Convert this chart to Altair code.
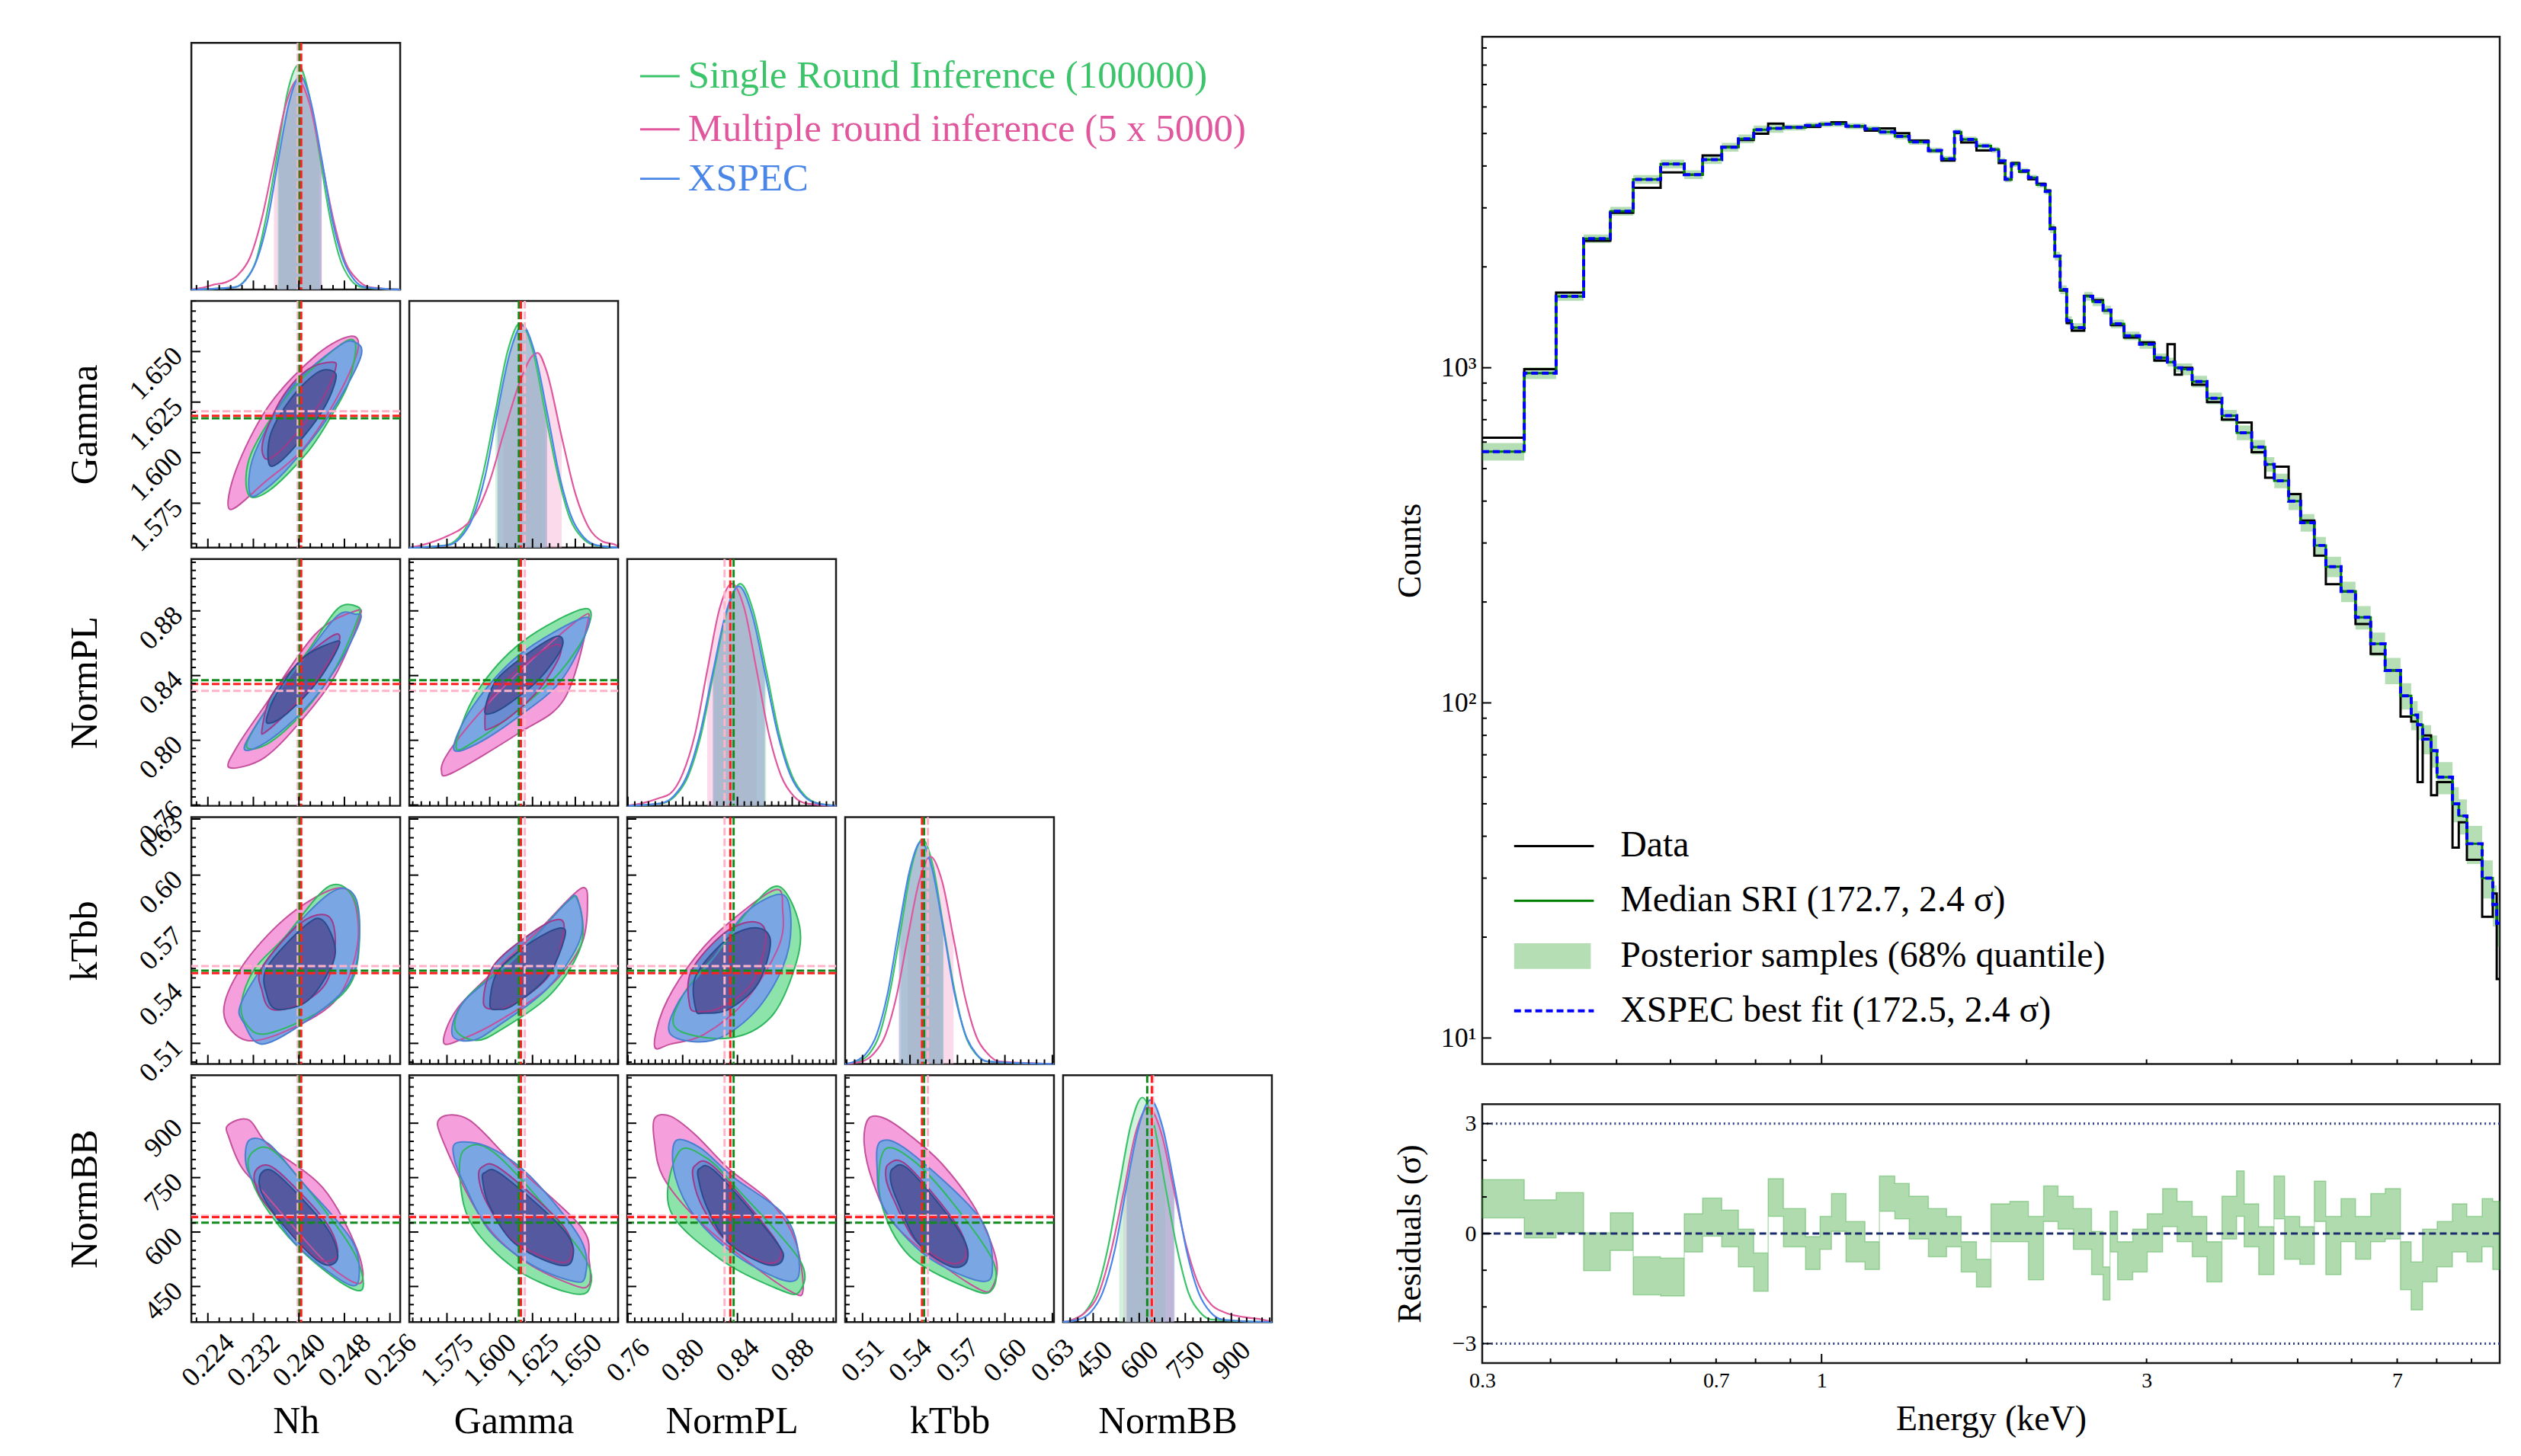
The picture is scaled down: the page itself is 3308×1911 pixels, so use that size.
import numpy as np
import pandas as pd
import altair as alt

FONT = "Liberation Serif"

# ---------------- corner plot data ----------------
PARAMS = ["Nh", "Gamma", "NormPL", "kTbb", "NormBB"]
DOMAIN = {"Nh": [0.2211, 0.2578], "Gamma": [1.553, 1.675], "NormPL": [0.7595, 0.912],
          "kTbb": [0.499, 0.631], "NormBB": [352, 1032]}
MAJOR = {"Nh": [0.224, 0.232, 0.240, 0.248, 0.256], "Gamma": [1.575, 1.600, 1.625, 1.650],
         "NormPL": [0.76, 0.80, 0.84, 0.88], "kTbb": [0.51, 0.54, 0.57, 0.60, 0.63],
         "NormBB": [450, 600, 750, 900]}
MINOR_STEP = {"Nh": 0.002, "Gamma": 0.005, "NormPL": 0.005, "kTbb": 0.005, "NormBB": 25}
LABEL_FMT = {"Nh": ".3f", "Gamma": ".3f", "NormPL": ".2f", "kTbb": ".2f", "NormBB": "d"}

MEDIANS = {
    "Nh": {"MRI": 0.2398, "SRI": 0.2401, "XSPEC": 0.2404},
    "Gamma": {"MRI": 1.6205, "SRI": 1.6170, "XSPEC": 1.6182},
    "NormPL": {"MRI": 0.8306, "SRI": 0.8372, "XSPEC": 0.8348},
    "kTbb": {"MRI": 0.5513, "SRI": 0.5489, "XSPEC": 0.5476},
    "NormBB": {"MRI": 645, "SRI": 626, "XSPEC": 641},
}

# 1D marginal curves (x, relative height) and 68% bands
KDE = {
    "Nh": {
        "SRI": ([0.2288, 0.2306, 0.2325, 0.2343, 0.2362, 0.2380, 0.2399, 0.2417, 0.2436, 0.2454, 0.2473, 0.2491, 0.2510],
                [0.01, 0.04, 0.12, 0.30, 0.55, 0.80, 0.91, 0.80, 0.55, 0.30, 0.12, 0.04, 0.01]),
        "MRI": ([0.2235, 0.2250, 0.2272, 0.2293, 0.2314, 0.2335, 0.2356, 0.2377, 0.2398, 0.2419, 0.2440, 0.2461, 0.2482, 0.2503, 0.2524],
                [0.01, 0.02, 0.03, 0.06, 0.13, 0.29, 0.52, 0.75, 0.85, 0.75, 0.52, 0.28, 0.11, 0.04, 0.01]),
        "XSPEC": ([0.2288, 0.2307, 0.2326, 0.2345, 0.2364, 0.2383, 0.2402, 0.2421, 0.2440, 0.2459, 0.2478, 0.2497, 0.2516],
                  [0.01, 0.04, 0.12, 0.28, 0.53, 0.76, 0.865, 0.76, 0.53, 0.28, 0.12, 0.04, 0.01]),
    },
    "Gamma": {
        "SRI": ([1.5743, 1.5816, 1.5888, 1.5961, 1.6033, 1.6106, 1.6178, 1.6251, 1.6323, 1.6396, 1.6468, 1.6541, 1.6613],
                [0.01, 0.04, 0.12, 0.30, 0.55, 0.80, 0.91, 0.80, 0.55, 0.30, 0.12, 0.04, 0.01]),
        "MRI": ([1.5600, 1.5760, 1.5840, 1.5920, 1.6000, 1.6080, 1.6180, 1.6240, 1.6280, 1.6330, 1.6420, 1.6500, 1.6580, 1.6660, 1.6740],
                [0.01, 0.05, 0.08, 0.14, 0.27, 0.46, 0.68, 0.77, 0.79, 0.72, 0.45, 0.22, 0.08, 0.025, 0.01]),
        "XSPEC": ([1.5755, 1.5828, 1.5900, 1.5973, 1.6045, 1.6118, 1.6190, 1.6263, 1.6335, 1.6408, 1.6480, 1.6553, 1.6625],
                  [0.01, 0.04, 0.12, 0.29, 0.55, 0.79, 0.90, 0.79, 0.55, 0.29, 0.12, 0.04, 0.01]),
    },
    "NormPL": {
        "SRI": ([0.7850, 0.7945, 0.8040, 0.8135, 0.8230, 0.8325, 0.8420, 0.8515, 0.8610, 0.8705, 0.8800, 0.8895, 0.8990],
                [0.01, 0.04, 0.12, 0.29, 0.55, 0.79, 0.90, 0.79, 0.55, 0.29, 0.12, 0.04, 0.01]),
        "MRI": ([0.7700, 0.7820, 0.7910, 0.8000, 0.8090, 0.8180, 0.8270, 0.8360, 0.8450, 0.8540, 0.8630, 0.8720, 0.8810, 0.8900],
                [0.01, 0.03, 0.05, 0.13, 0.29, 0.55, 0.80, 0.90, 0.80, 0.55, 0.29, 0.12, 0.04, 0.01]),
        "XSPEC": ([0.7840, 0.7935, 0.8030, 0.8125, 0.8220, 0.8315, 0.8410, 0.8505, 0.8600, 0.8695, 0.8790, 0.8885, 0.8980],
                  [0.01, 0.04, 0.12, 0.29, 0.54, 0.78, 0.89, 0.78, 0.54, 0.29, 0.12, 0.04, 0.01]),
    },
    "kTbb": {
        "SRI": ([0.5073, 0.5141, 0.5208, 0.5276, 0.5343, 0.5411, 0.5478, 0.5546, 0.5613, 0.5681, 0.5748, 0.5816, 0.5883],
                [0.01, 0.04, 0.12, 0.30, 0.55, 0.80, 0.91, 0.80, 0.55, 0.30, 0.12, 0.04, 0.01]),
        "MRI": ([0.5095, 0.5168, 0.5240, 0.5313, 0.5385, 0.5458, 0.5530, 0.5603, 0.5675, 0.5748, 0.5820, 0.5893, 0.5965],
                [0.01, 0.04, 0.11, 0.27, 0.51, 0.74, 0.84, 0.74, 0.51, 0.27, 0.11, 0.04, 0.01]),
        "XSPEC": ([0.5050, 0.5120, 0.5190, 0.5260, 0.5330, 0.5400, 0.5470, 0.5540, 0.5610, 0.5680, 0.5750, 0.5820, 0.5890],
                  [0.01, 0.04, 0.12, 0.29, 0.55, 0.79, 0.90, 0.79, 0.55, 0.29, 0.12, 0.04, 0.01]),
    },
    "NormBB": {
        "SRI": ([385, 423, 460, 498, 535, 573, 610, 648, 685, 723, 760, 798, 835],
                [0.01, 0.04, 0.12, 0.30, 0.55, 0.80, 0.91, 0.80, 0.55, 0.30, 0.12, 0.04, 0.01]),
        "MRI": ([384, 425, 466, 507, 548, 589, 630, 671, 712, 753, 794, 835, 876, 940, 1000],
                [0.01, 0.04, 0.11, 0.28, 0.52, 0.77, 0.87, 0.77, 0.54, 0.31, 0.15, 0.07, 0.04, 0.02, 0.01]),
        "XSPEC": ([403, 442, 481, 520, 559, 598, 637, 676, 715, 754, 793, 832, 871, 920],
                  [0.01, 0.04, 0.12, 0.29, 0.55, 0.79, 0.90, 0.79, 0.55, 0.29, 0.12, 0.04, 0.01, 0.005]),
    },
}
BAND = {
    "Nh": {"SRI": (0.2362, 0.2436), "MRI": (0.2356, 0.2440), "XSPEC": (0.2364, 0.2440)},
    "Gamma": {"SRI": (1.6033, 1.6323), "MRI": (1.6080, 1.6420), "XSPEC": (1.6045, 1.6335)},
    "NormPL": {"SRI": (0.8230, 0.8610), "MRI": (0.8180, 0.8540), "XSPEC": (0.8220, 0.8600)},
    "kTbb": {"SRI": (0.5343, 0.5613), "MRI": (0.5385, 0.5675), "XSPEC": (0.5330, 0.5610)},
    "NormBB": {"SRI": (535, 685), "MRI": (548, 712), "XSPEC": (559, 715)},
}

# 2D credible contours: vertices (x = column parameter, y = row parameter)
CONTOURS = {
    "Gamma|Nh": {
        "MRI_out": [(0.2279, 1.5719), (0.2290, 1.5919), (0.2348, 1.6236), (0.2432, 1.6486), (0.2492, 1.6576), (0.2503, 1.6501), (0.2466, 1.6267), (0.2408, 1.6021), (0.2342, 1.5859)],
        "XSPEC_out": [(0.2314, 1.5795), (0.2322, 1.5995), (0.2388, 1.6323), (0.2468, 1.6523), (0.2499, 1.6546), (0.2508, 1.6467), (0.2455, 1.6191), (0.2388, 1.5946), (0.2342, 1.5821)],
        "SRI_out": [(0.2311, 1.5795), (0.2316, 1.5995), (0.2384, 1.6297), (0.2468, 1.6523), (0.2499, 1.6542), (0.2488, 1.6350), (0.2459, 1.6191), (0.2415, 1.6002), (0.2348, 1.5813)],
        "XSPEC_in": [(0.2347, 1.5949), (0.2351, 1.6097), (0.2388, 1.6274), (0.2432, 1.6395), (0.2460, 1.6403), (0.2464, 1.6353), (0.2442, 1.6210), (0.2402, 1.6059), (0.2364, 1.5949)],
        "MRI_in": [(0.2339, 1.5976), (0.2338, 1.6070), (0.2371, 1.6274), (0.2415, 1.6410), (0.2458, 1.6448), (0.2464, 1.6410), (0.2438, 1.6248), (0.2388, 1.6070), (0.2356, 1.5983)],
    },
    "NormPL|Nh": {
        "MRI_out": [(0.2278, 0.7831), (0.2291, 0.7959), (0.2339, 0.8209), (0.2428, 0.8653), (0.2499, 0.8799), (0.2506, 0.8747), (0.2464, 0.8402), (0.2406, 0.8129), (0.2339, 0.7892)],
        "SRI_out": [(0.2308, 0.7977), (0.2362, 0.8294), (0.2419, 0.8568), (0.2468, 0.8813), (0.2502, 0.8827), (0.2504, 0.8756), (0.2464, 0.8445), (0.2406, 0.8166), (0.2344, 0.7977)],
        "XSPEC_out": [(0.2304, 0.7959), (0.2358, 0.8270), (0.2415, 0.8535), (0.2468, 0.8771), (0.2498, 0.8780), (0.2508, 0.8742), (0.2468, 0.8459), (0.2408, 0.8185), (0.2342, 0.7987)],
        "XSPEC_in": [(0.2344, 0.8147), (0.2362, 0.8294), (0.2406, 0.8506), (0.2464, 0.8610), (0.2468, 0.8568), (0.2432, 0.8360), (0.2379, 0.8166), (0.2348, 0.8105)],
        "MRI_in": [(0.2335, 0.8062), (0.2351, 0.8270), (0.2402, 0.8487), (0.2463, 0.8653), (0.2468, 0.8586), (0.2428, 0.8360), (0.2375, 0.8157), (0.2342, 0.8053)],
    },
    "NormPL|Gamma": {
        "MRI_out": [(1.5718, 0.7812), (1.5753, 0.7916), (1.5923, 0.8147), (1.6169, 0.8421), (1.6531, 0.8756), (1.6567, 0.8705), (1.6433, 0.8251), (1.6169, 0.8044), (1.5780, 0.7798)],
        "SRI_out": [(1.5803, 0.7959), (1.5923, 0.8294), (1.6191, 0.8610), (1.6553, 0.8813), (1.6567, 0.8676), (1.6410, 0.8421), (1.6169, 0.8190), (1.5923, 0.8001)],
        "XSPEC_out": [(1.5789, 0.7949), (1.5901, 0.8209), (1.6169, 0.8525), (1.6544, 0.8756), (1.6558, 0.8653), (1.6410, 0.8360), (1.6169, 0.8147), (1.5923, 0.7977)],
        "XSPEC_in": [(1.5972, 0.8190), (1.6044, 0.8379), (1.6240, 0.8549), (1.6397, 0.8643), (1.6419, 0.8568), (1.6290, 0.8379), (1.6120, 0.8232), (1.6008, 0.8166)],
        "MRI_in": [(1.5972, 0.8086), (1.5999, 0.8251), (1.6191, 0.8464), (1.6383, 0.8591), (1.6410, 0.8525), (1.6290, 0.8317), (1.6120, 0.8147), (1.5999, 0.8072)],
    },
    "kTbb|Nh": {
        "MRI_out": [(0.2268, 0.5262), (0.2299, 0.5506), (0.2375, 0.5766), (0.2459, 0.5924), (0.2495, 0.5879), (0.2503, 0.5628), (0.2468, 0.5343), (0.2388, 0.5181), (0.2308, 0.5116)],
        "XSPEC_out": [(0.2304, 0.5205), (0.2299, 0.5319), (0.2362, 0.5615), (0.2455, 0.5904), (0.2498, 0.5888), (0.2506, 0.5656), (0.2486, 0.5412), (0.2406, 0.5205), (0.2335, 0.5096)],
        "SRI_out": [(0.2299, 0.5319), (0.2322, 0.5498), (0.2375, 0.5668), (0.2455, 0.5944), (0.2502, 0.5831), (0.2498, 0.5469), (0.2442, 0.5282), (0.2344, 0.5152), (0.2308, 0.5201)],
        "XSPEC_in": [(0.2344, 0.5355), (0.2344, 0.5506), (0.2411, 0.5729), (0.2442, 0.5758), (0.2464, 0.5599), (0.2446, 0.5449), (0.2411, 0.5319), (0.2362, 0.5282)],
        "MRI_in": [(0.2335, 0.5384), (0.2335, 0.5506), (0.2402, 0.5741), (0.2451, 0.5782), (0.2464, 0.5636), (0.2448, 0.5425), (0.2402, 0.5311), (0.2352, 0.5282)],
    },
    "kTbb|Gamma": {
        "MRI_out": [(1.5731, 0.5104), (1.5807, 0.5282), (1.6048, 0.5506), (1.6290, 0.5709), (1.6531, 0.5928), (1.6571, 0.5843), (1.6531, 0.5620), (1.6339, 0.5396), (1.6048, 0.5217), (1.5852, 0.5128)],
        "XSPEC_out": [(1.5780, 0.5148), (1.5852, 0.5327), (1.6142, 0.5550), (1.6437, 0.5843), (1.6509, 0.5875), (1.6531, 0.5664), (1.6339, 0.5396), (1.6048, 0.5193), (1.5901, 0.5116)],
        "SRI_out": [(1.5798, 0.5181), (1.5865, 0.5343), (1.6156, 0.5567), (1.6446, 0.5851), (1.6517, 0.5863), (1.6535, 0.5628), (1.6357, 0.5364), (1.6066, 0.5173), (1.5919, 0.5116)],
        "XSPEC_in": [(1.6001, 0.5307), (1.6048, 0.5486), (1.6240, 0.5640), (1.6410, 0.5717), (1.6437, 0.5664), (1.6339, 0.5461), (1.6142, 0.5307), (1.6048, 0.5282)],
        "MRI_in": [(1.5963, 0.5323), (1.6021, 0.5514), (1.6223, 0.5677), (1.6392, 0.5762), (1.6433, 0.5701), (1.6348, 0.5465), (1.6142, 0.5311), (1.6021, 0.5282)],
    },
    "kTbb|NormPL": {
        "MRI_out": [(0.7795, 0.5083), (0.7857, 0.5282), (0.8035, 0.5506), (0.8280, 0.5709), (0.8669, 0.5920), (0.8730, 0.5819), (0.8702, 0.5620), (0.8458, 0.5327), (0.8157, 0.5148), (0.7912, 0.5096)],
        "XSPEC_out": [(0.7912, 0.5148), (0.7973, 0.5327), (0.8218, 0.5550), (0.8458, 0.5798), (0.8730, 0.5896), (0.8791, 0.5729), (0.8730, 0.5506), (0.8519, 0.5262), (0.8218, 0.5116)],
        "SRI_out": [(0.7951, 0.5181), (0.8007, 0.5364), (0.8257, 0.5587), (0.8480, 0.5810), (0.8702, 0.5940), (0.8853, 0.5729), (0.8819, 0.5506), (0.8641, 0.5238), (0.8335, 0.5128)],
        "XSPEC_in": [(0.8096, 0.5282), (0.8096, 0.5461), (0.8335, 0.5664), (0.8547, 0.5717), (0.8641, 0.5640), (0.8547, 0.5417), (0.8335, 0.5282), (0.8157, 0.5262)],
        "MRI_in": [(0.8051, 0.5303), (0.8062, 0.5486), (0.8302, 0.5689), (0.8524, 0.5750), (0.8608, 0.5668), (0.8508, 0.5425), (0.8285, 0.5295), (0.8118, 0.5270)],
    },
    "NormBB|Nh": {
        "MRI_out": [(0.2275, 894), (0.2312, 909), (0.2348, 837), (0.2442, 722), (0.2502, 553), (0.2508, 459), (0.2451, 511), (0.2384, 626), (0.2331, 722), (0.2299, 779), (0.2278, 856)],
        "XSPEC_out": [(0.2308, 779), (0.2312, 852), (0.2348, 842), (0.2406, 737), (0.2464, 637), (0.2499, 559), (0.2506, 482), (0.2495, 452), (0.2451, 492), (0.2388, 578), (0.2335, 704)],
        "SRI_out": [(0.2312, 770), (0.2318, 819), (0.2352, 827), (0.2415, 720), (0.2495, 549), (0.2512, 444), (0.2472, 463), (0.2398, 559), (0.2339, 674)],
        "XSPEC_in": [(0.2331, 752), (0.2352, 770), (0.2398, 704), (0.2451, 607), (0.2468, 540), (0.2459, 511), (0.2432, 522), (0.2379, 607), (0.2339, 693)],
        "MRI_in": [(0.2322, 762), (0.2348, 783), (0.2395, 720), (0.2448, 626), (0.2468, 553), (0.2458, 522), (0.2428, 532), (0.2375, 616), (0.2332, 699)],
    },
    "NormBB|Gamma": {
        "MRI_out": [(1.5709, 913), (1.5879, 909), (1.6142, 787), (1.6531, 616), (1.6580, 524), (1.6580, 455), (1.6482, 455), (1.6191, 524), (1.5950, 639), (1.5731, 846)],
        "XSPEC_out": [(1.5794, 800), (1.5807, 846), (1.5999, 833), (1.6240, 752), (1.6531, 580), (1.6558, 478), (1.6482, 465), (1.6240, 511), (1.5999, 603), (1.5852, 731)],
        "SRI_out": [(1.5829, 731), (1.5852, 827), (1.6048, 810), (1.6531, 547), (1.6580, 442), (1.6437, 436), (1.6142, 501), (1.5901, 616)],
        "XSPEC_in": [(1.5959, 741), (1.5972, 764), (1.6071, 758), (1.6437, 603), (1.6482, 524), (1.6388, 511), (1.6142, 570), (1.5999, 672)],
        "MRI_in": [(1.5937, 745), (1.5954, 779), (1.6066, 773), (1.6424, 620), (1.6477, 536), (1.6392, 519), (1.6133, 578), (1.5986, 678)],
    },
    "NormBB|NormPL": {
        "MRI_out": [(0.7795, 913), (0.7912, 919), (0.8096, 867), (0.8335, 775), (0.8641, 683), (0.8819, 580), (0.8880, 442), (0.8791, 436), (0.8458, 524), (0.8096, 639), (0.7857, 752), (0.7795, 846)],
        "XSPEC_out": [(0.7946, 850), (0.8124, 833), (0.8368, 752), (0.8758, 639), (0.8853, 501), (0.8758, 465), (0.8396, 534), (0.8096, 639), (0.7946, 752)],
        "SRI_out": [(0.7973, 821), (0.8174, 804), (0.8396, 720), (0.8853, 524), (0.8853, 436), (0.8702, 442), (0.8279, 524), (0.7907, 662)],
        "XSPEC_in": [(0.8124, 775), (0.8246, 764), (0.8669, 580), (0.8730, 524), (0.8608, 511), (0.8335, 570), (0.8185, 662), (0.8118, 741)],
        "MRI_in": [(0.8090, 783), (0.8229, 779), (0.8647, 595), (0.8714, 532), (0.8591, 517), (0.8313, 578), (0.8146, 668), (0.8079, 741)],
    },
    "NormBB|kTbb": {
        "MRI_out": [(0.5139, 913), (0.5240, 913), (0.5398, 867), (0.5604, 787), (0.5816, 662), (0.5945, 524), (0.5921, 448), (0.5840, 442), (0.5557, 524), (0.5292, 626), (0.5163, 741), (0.5110, 846)],
        "XSPEC_out": [(0.5216, 850), (0.5398, 821), (0.5840, 639), (0.5921, 501), (0.5840, 465), (0.5504, 534), (0.5240, 662), (0.5192, 775)],
        "SRI_out": [(0.5240, 827), (0.5432, 793), (0.5672, 679), (0.5921, 524), (0.5921, 442), (0.5787, 442), (0.5398, 534), (0.5216, 685)],
        "XSPEC_in": [(0.5292, 775), (0.5398, 770), (0.5710, 603), (0.5763, 524), (0.5657, 505), (0.5451, 570), (0.5321, 685), (0.5278, 741)],
        "MRI_in": [(0.5264, 787), (0.5384, 783), (0.5696, 620), (0.5753, 536), (0.5648, 515), (0.5432, 578), (0.5297, 689), (0.5249, 745)],
    },
}

CORNER_LEGEND = ["Single Round Inference (100000)", "Multiple round inference (5 x 5000)", "XSPEC"]

# ---------------- spectrum data ----------------
SPEC_EDGES = [0.3175, 0.366, 0.4076, 0.4473, 0.4896, 0.529, 0.5803, 0.6286, 0.6688, 0.7135,
              0.7549, 0.795, 0.8348, 0.879, 0.9473, 0.995, 1.034, 1.086, 1.158, 1.216,
              1.281, 1.345, 1.435, 1.500, 1.567, 1.603, 1.688, 1.773, 1.820, 1.860,
              1.900, 1.950, 2.012, 2.070, 2.130, 2.165, 2.200, 2.240, 2.290, 2.330,
              2.430, 2.500, 2.590, 2.660, 2.780, 2.930, 3.080, 3.220, 3.300, 3.380,
              3.500, 3.680, 3.870, 4.070, 4.280, 4.480, 4.620, 4.850, 5.050, 5.290,
              5.500, 5.790, 6.080, 6.400, 6.720, 7.080, 7.340, 7.500, 7.630, 7.850,
              8.010, 8.440, 8.620, 8.860, 9.330, 9.670, 9.800, 9.900]
MODEL = [562, 964, 1633, 2427, 2931, 3648, 4056, 3770, 4180, 4550,
         4819, 5130, 5180, 5210, 5283, 5330, 5346, 5260, 5160, 5050,
         4900, 4720, 4450, 4200, 5050, 4800, 4590, 4470, 4140, 3650,
         4056, 3866, 3690, 3516, 3357, 2600, 2153, 1711, 1382, 1318,
         1633, 1574, 1486, 1352, 1245, 1175, 1071, 1040, 1000, 990,
         910, 811, 720, 640, 580, 515, 460, 400, 345, 295,
         255, 215, 180, 150, 125, 105, 92, 86, 78, 72,
         60, 50, 46, 38, 30, 25, 22]
DATA = [618, 990, 1677, 2393, 2902, 3443, 3828, 3770, 4299, 4560,
        4780, 4990, 5350, 5220, 5230, 5320, 5400, 5250, 5100, 5180,
        5010, 4760, 4440, 4150, 5020, 4700, 4450, 4480, 4080, 3640,
        4080, 3850, 3650, 3540, 3380, 2620, 2150, 1700, 1360, 1290,
        1640, 1590, 1480, 1340, 1230, 1190, 1050, 1176, 954, 1000,
        890, 790, 700, 687, 560, 470, 507, 420, 350, 275,
        226, 215, 172, 140, 125, 91, 88, 58, 80, 53,
        58, 37, 44, 34, 23, 27, 15]
BAND_PCT = [6, 4, 3, 3, 3, 3, 3, 3, 3, 3, 3, 3, 3,
            2, 2, 2, 2, 2, 2, 2, 2, 2, 2, 2, 2, 2, 2, 2, 2, 2, 2, 2, 2, 2, 2,
            3, 3, 3, 3, 3, 3, 3, 3, 3, 3, 3,
            3, 3, 3, 4, 4, 4, 4, 5, 5, 5, 5, 6,
            6, 6, 7, 7, 8, 8, 9, 9, 10, 10, 10, 11, 11, 12, 12, 13, 13, 14, 15]

RES_EDGES = [0.3175, 0.366, 0.4076, 0.4473, 0.4896, 0.529, 0.5803, 0.6286, 0.6688, 0.7135,
             0.7549, 0.795, 0.8348, 0.879, 0.9473, 0.995, 1.034, 1.086, 1.158, 1.216,
             1.281, 1.345, 1.435, 1.526, 1.603, 1.688, 1.773, 1.890, 2.012, 2.118,
             2.224, 2.342, 2.491, 2.590, 2.651, 2.720, 2.863, 3.007, 3.167, 3.326,
             3.501, 3.678, 3.871, 4.067, 4.173, 4.383, 4.615, 4.784, 5.036, 5.290,
             5.499, 5.789, 6.080, 6.401, 6.723, 7.078, 7.338, 7.627, 8.013, 8.436,
             8.860, 9.328, 9.670, 9.900]
RES_LO = [0.43, -0.12, 0.02, -1.01, -0.46, -1.67, -1.70, -0.50, -0.07, -0.36,
          -0.91, -1.57, 0.47, -0.36, -0.98, -0.43, 0.06, -0.77, -0.98, 0.61,
          0.40, -0.15, -0.63, -0.36, -1.05, -1.46, -0.22, -0.22, -1.26, 0.33,
          0.12, -0.43, -1.12, -1.81, -0.50, -1.26, -1.05, -0.50, 0.19, -0.22,
          -0.63, -1.32, -0.15, 0.47, -0.36, -1.12, 0.40, -0.70, -0.84, 0.33,
          -1.12, -0.22, -0.70, -0.22, -0.15, -1.53, -2.08, -1.32, -0.91, -0.50,
          -0.77, -0.36, -0.98]
RES_HI = [1.47, 0.92, 1.12, 0.02, 0.57, -0.63, -0.67, 0.54, 0.97, 0.64,
          0.12, -0.53, 1.50, 0.68, -0.08, 0.47, 1.09, 0.33, -0.22, 1.57,
          1.37, 1.02, 0.68, 0.47, -0.22, -0.70, 0.81, 0.88, 0.47, 1.30,
          1.02, 0.68, 0.06, -0.91, 0.61, -0.22, 0.12, 0.54, 1.23, 0.88,
          0.47, -0.22, 1.02, 1.71, 0.81, 0.19, 1.57, 0.47, 0.19, 1.43,
          0.47, 0.95, 0.47, 1.09, 1.23, -0.22, -0.77, 0.12, 0.33, 0.81,
          0.47, 0.95, 0.88]

E_TICK_MAJOR = [1]
E_TICK_MINOR = [0.4, 0.5, 0.6, 0.7, 0.8, 0.9, 2, 3, 4, 5, 6, 7, 8, 9]
E_LABELS = [0.3175, 0.7, 1, 3, 7]
C_TICK_MAJOR = [10, 100, 1000]
C_TICK_MINOR = [20, 30, 40, 50, 60, 70, 80, 90, 200, 300, 400, 500, 600, 700, 800, 900,
                2000, 3000, 4000, 5000, 6000, 7000, 8000, 9000]
R_TICK_MAJOR = [-3, 0, 3]
R_TICK_MINOR = [-2, -1, 1, 2]

SPEC_LEGEND = ["Data", "Median SRI (172.7, 2.4 σ)", "Posterior samples (68% quantile)",
               "XSPEC best fit (172.5, 2.4 σ)"]

assert len(SPEC_EDGES) == len(MODEL) + 1 == len(DATA) + 1 == len(BAND_PCT) + 1
assert len(RES_EDGES) == len(RES_LO) + 1 == len(RES_HI) + 1

# ---------------- styling ----------------
W, H = 275, 325
TMAJ, TMIN = 12, 6
COL = {"MRI": "#e0579e", "SRI": "#3cc46a", "XSPEC": "#4a86e8"}
MED_COL = {"MRI": "#ffb3c8", "SRI": "#138a1c", "XSPEC": "#ff1f1f"}
ONE = pd.DataFrame({"z": [0]})
INVISIBLE = alt.ViewBackground(strokeOpacity=0, strokeWidth=0)


def minor_ticks(p):
    lo, hi = DOMAIN[p]
    s = MINOR_STEP[p]
    v = np.ceil(lo / s - 1e-9) * s
    out = []
    while v <= hi + 1e-12:
        if all(abs(v - m) > s * 0.01 for m in MAJOR[p]):
            out.append(round(float(v), 6))
        v += s
    return out


def xenc(p, show):
    sc = alt.Scale(domain=DOMAIN[p], nice=False, zero=False)
    if not show:
        return alt.X("x:Q", scale=sc, axis=None)
    ax = alt.Axis(values=MAJOR[p], format=LABEL_FMT[p], labelAngle=315, labelAlign="center",
                  labelBaseline="middle", labelPadding=50, labelFontSize=36, labelFont=FONT,
                  labelColor="black", labelFlush=False, labelOverlap=False, labelBound=False,
                  ticks=False, tickSize=0, domain=False, grid=False, title=p, titleFont=FONT,
                  titleFontSize=50, titleFontWeight="normal", titleColor="black", titleY=131,
                  titleX=W / 2, titleBaseline="middle", titleAlign="center")
    return alt.X("x:Q", scale=sc, axis=ax)


def yenc(p, show):
    sc = alt.Scale(domain=DOMAIN[p], nice=False, zero=False)
    if not show:
        return alt.Y("y:Q", scale=sc, axis=None)
    ax = alt.Axis(values=MAJOR[p], format=LABEL_FMT[p], labelAngle=315, labelAlign="right",
                  labelBaseline="middle", labelPadding=18, labelFontSize=36, labelFont=FONT,
                  labelColor="black", labelFlush=False, labelOverlap=False, labelBound=False,
                  ticks=False, tickSize=0, domain=False, grid=False, title=p, titleFont=FONT,
                  titleFontSize=50, titleFontWeight="normal", titleColor="black", titleX=-140,
                  titleY=H / 2, titleAngle=270, titleBaseline="middle", titleAlign="center")
    return alt.Y("y:Q", scale=sc, axis=ax)


def poly_df(pts):
    return pd.DataFrame({"x": [a for a, b in pts], "y": [b for a, b in pts], "k": list(range(len(pts)))})


def poly_fill(pts, color, X, Y):
    return alt.Chart(poly_df(pts)).mark_line(interpolate="cardinal-closed", fill=color, fillOpacity=1,
                                             strokeWidth=0).encode(x=X, y=Y, order=alt.Order("k:Q"))


def poly_line(pts, color, X, Y, sw=2):
    return alt.Chart(poly_df(pts)).mark_line(interpolate="cardinal-closed", color=color,
                                             strokeWidth=sw).encode(x=X, y=Y, order=alt.Order("k:Q"))


def ticks_x(xmaj, xmin, X, h):
    out = []
    for vals, L in ((xmaj, TMAJ), (xmin, TMIN)):
        out.append(alt.Chart(pd.DataFrame({"x": vals})).mark_rule(color="black", strokeWidth=2).encode(
            x=X, y=alt.value(h), y2=alt.value(h - L)))
    return out


def ticks_y(ymaj, ymin, Y):
    out = []
    for vals, L in ((ymaj, TMAJ), (ymin, TMIN)):
        out.append(alt.Chart(pd.DataFrame({"y": vals})).mark_rule(color="black", strokeWidth=2).encode(
            y=Y, x=alt.value(0), x2=alt.value(L)))
    return out


def med_rules(p, enc, field):
    layers = []
    for m in ("MRI", "SRI", "XSPEC"):
        df = pd.DataFrame({field: [MEDIANS[p][m]]})
        layers.append(alt.Chart(df).mark_rule(color=MED_COL[m], strokeDash=[10, 4], strokeWidth=3).encode(
            **{field: enc}))
    return layers


def hseg(x1, x2, y, color, width, dash=None):
    kw = dict(color=color, strokeWidth=width)
    if dash:
        kw["strokeDash"] = dash
    return alt.Chart(ONE).mark_rule(**kw).encode(x=alt.value(x1), x2=alt.value(x2), y=alt.value(y))


def label(x, y, text, size, color="black"):
    return alt.Chart(ONE).mark_text(align="left", baseline="middle", font=FONT, fontSize=size,
                                    color=color).encode(x=alt.value(x), y=alt.value(y), text=alt.value(text))


def offdiag(i, j):
    py, px = PARAMS[i], PARAMS[j]
    X = xenc(px, i == 4)
    Y = yenc(py, j == 0)
    C = CONTOURS[py + "|" + px]
    layers = [
        poly_fill(C["MRI_out"], "#f5a0dc", X, Y),
        poly_fill(C["SRI_out"], "#8ce4aa", X, Y),
        poly_fill(C["XSPEC_out"], "#7aa6e4", X, Y),
        poly_fill(C["MRI_in"], "#698cd2", X, Y),
        poly_fill(C["XSPEC_in"], "#555aa0", X, Y),
        poly_line(C["MRI_out"], "#c5509c", X, Y),
        poly_line(C["SRI_out"], "#2fb85f", X, Y),
        poly_line(C["XSPEC_out"], "#4b7fd0", X, Y),
        poly_line(C["MRI_in"], "#a03a88", X, Y),
        poly_line(C["XSPEC_in"], "#2c4b8c", X, Y),
    ]
    layers += med_rules(px, X, "x") + med_rules(py, Y, "y")
    layers += ticks_x(MAJOR[px], minor_ticks(px), X, H) + ticks_y(MAJOR[py], minor_ticks(py), Y)
    return alt.layer(*layers).properties(width=W, height=H)


def diag(i):
    p = PARAMS[i]
    X = xenc(p, i == 4)
    Y = alt.Y("y:Q", scale=alt.Scale(domain=[0, 1], nice=False, zero=False), axis=None)
    layers = []
    for m, col, op in (("MRI", "#f7b6da", 0.5), ("SRI", "#a6e3bd", 0.5), ("XSPEC", "#8e9acc", 0.55)):
        xs, ys = KDE[p][m]
        lo, hi = BAND[p][m]
        sel = [(a, b) for a, b in zip(xs, ys) if lo - 1e-9 <= a <= hi + 1e-9]
        df = pd.DataFrame({"x": [a for a, b in sel], "y": [b for a, b in sel]})
        layers.append(alt.Chart(df).mark_area(interpolate="monotone", color=col, opacity=op).encode(x=X, y=Y))
    lo_d, hi_d = DOMAIN[p]
    for m in ("SRI", "MRI", "XSPEC"):
        xs, ys = KDE[p][m]
        df = pd.DataFrame({"x": [lo_d] + list(xs) + [hi_d], "y": [0] + list(ys) + [0]})
        layers.append(alt.Chart(df).mark_line(interpolate="monotone", color=COL[m], strokeWidth=2.2).encode(x=X, y=Y))
    layers += med_rules(p, X, "x")
    layers += ticks_x(MAJOR[p], minor_ticks(p), X, H)
    if i == 0:
        for txt, m, yy in zip(CORNER_LEGEND, ("SRI", "MRI", "XSPEC"), (44, 114, 179)):
            layers.append(hseg(591, 643, yy, COL[m], 3))
            layers.append(label(654, yy, txt, 51, COL[m]))
    return alt.layer(*layers).properties(width=W, height=H)


def blank(w, h):
    return alt.Chart(ONE).mark_point(opacity=0).encode(x=alt.value(0), y=alt.value(0)).properties(
        width=w, height=h, view=INVISIBLE)


cells = []
for i in range(5):
    for j in range(5):
        if j < i:
            cells.append(offdiag(i, j))
        elif j == i:
            cells.append(diag(i))
        else:
            cells.append(blank(W, H))
corner = alt.concat(*cells, columns=5, spacing={"row": 15, "column": 12}, bounds="flush")
top_spacer = alt.Chart(ONE).mark_rule(opacity=0, strokeWidth=1).encode(
    x=alt.value(0), y=alt.value(0), y2=alt.value(1)).properties(width=1, height=1, view=INVISIBLE)
corner_wrapped = alt.vconcat(top_spacer, corner, spacing=4)

# ---------------- spectrum panels ----------------
SW, SH, RH = 1340, 1353, 341
XSC = alt.Scale(type="log", domain=[0.3175, 9.9], nice=False)
YSC = alt.Scale(type="log", domain=[8.37, 9716], nice=False)
RSC = alt.Scale(domain=[-3.53, 3.53], nice=False, zero=False)


def ext(v):
    return list(v) + [v[-1]]


sx = list(SPEC_EDGES[:-1]) + [SPEC_EDGES[-1]]
spec_df = pd.DataFrame({
    "x": sx,
    "model": ext(MODEL),
    "data": ext(DATA),
    "lo": ext([m * (1 - q / 100) for m, q in zip(MODEL, BAND_PCT)]),
    "hi": ext([m * (1 + q / 100) for m, q in zip(MODEL, BAND_PCT)]),
})

y_axis_main = alt.Axis(values=C_TICK_MAJOR,
                       labelExpr="datum.value == 10 ? '10¹' : datum.value == 100 ? '10²' : '10³'",
                       labelFontSize=36, labelFont=FONT, labelColor="black", labelPadding=8,
                       labelFlush=False, labelOverlap=False, ticks=False, tickSize=0, domain=False,
                       grid=False, title="Counts", titleFont=FONT, titleFontSize=44,
                       titleFontWeight="normal", titleColor="black", titleX=-95, titleY=SH / 2,
                       titleAngle=270, titleBaseline="middle", titleAlign="center")
XM = alt.X("x:Q", scale=XSC, axis=None)


def YM(field):
    return alt.Y(field + ":Q", scale=YSC, axis=y_axis_main)


main_layers = [
    alt.Chart(spec_df).mark_area(interpolate="step-after", color="#2ca02c", opacity=0.35).encode(
        x=XM, y=YM("lo"), y2="hi:Q"),
    alt.Chart(spec_df).mark_line(interpolate="step-after", color="black", strokeWidth=3).encode(x=XM, y=YM("data")),
    alt.Chart(spec_df).mark_line(interpolate="step-after", color="#008000", strokeWidth=3).encode(x=XM, y=YM("model")),
    alt.Chart(spec_df).mark_line(interpolate="step-after", color="#0000ff", strokeWidth=4,
                                 strokeDash=[9, 5]).encode(x=XM, y=YM("model")),
]
main_layers += ticks_x(E_TICK_MAJOR, E_TICK_MINOR, XM, SH)
main_layers += [
    alt.Chart(pd.DataFrame({"y": C_TICK_MAJOR})).mark_rule(color="black", strokeWidth=2).encode(
        y=YM("y"), x=alt.value(0), x2=alt.value(TMAJ)),
    alt.Chart(pd.DataFrame({"y": C_TICK_MINOR})).mark_rule(color="black", strokeWidth=2).encode(
        y=YM("y"), x=alt.value(0), x2=alt.value(TMIN)),
]
# legend
LY = [1066, 1138, 1211, 1283]
main_layers += [
    hseg(42, 147, LY[0], "black", 3),
    hseg(42, 147, LY[1], "#008000", 3),
    alt.Chart(ONE).mark_rect(color="#2ca02c", opacity=0.35).encode(
        x=alt.value(42), x2=alt.value(143), y=alt.value(LY[2] - 17), y2=alt.value(LY[2] + 17)),
    hseg(42, 147, LY[3], "#0000ff", 4, [9, 5]),
]
for txt, yy in zip(SPEC_LEGEND, LY):
    main_layers.append(label(182, yy, txt, 48))
main = alt.layer(*main_layers).properties(width=SW, height=SH)

x_axis_res = alt.Axis(values=E_LABELS,
                      labelExpr="datum.value < 0.35 ? '0.3' : datum.value < 0.8 ? '0.7' : datum.value < 2 ? '1' : datum.value < 5 ? '3' : '7'",
                      labelFontSize=28, labelFont=FONT, labelColor="black", labelPadding=10,
                      labelFlush=False, labelOverlap=False, labelBound=False, ticks=False, tickSize=0,
                      domain=False, grid=False, title="Energy (keV)", titleFont=FONT, titleFontSize=46,
                      titleFontWeight="normal", titleColor="black", titleY=74, titleX=SW / 2,
                      titleBaseline="middle", titleAlign="center")
y_axis_res = alt.Axis(values=R_TICK_MAJOR, labelFontSize=30, labelFont=FONT, labelColor="black",
                      labelPadding=8, labelFlush=False, labelOverlap=False, ticks=False, tickSize=0,
                      domain=False, grid=False, title="Residuals (σ)", titleFont=FONT, titleFontSize=44,
                      titleFontWeight="normal", titleColor="black", titleX=-95, titleY=RH / 2,
                      titleAngle=270, titleBaseline="middle", titleAlign="center")
XR = alt.X("x:Q", scale=XSC, axis=x_axis_res)


def YR(field):
    return alt.Y(field + ":Q", scale=RSC, axis=y_axis_res)


res_df = pd.DataFrame({"x": list(RES_EDGES[:-1]) + [RES_EDGES[-1]], "lo": ext(RES_LO), "hi": ext(RES_HI)})
res_layers = [
    alt.Chart(res_df).mark_area(interpolate="step-after", fill="#2ca02c", fillOpacity=0.38,
                                stroke="#2ca02c", strokeOpacity=0.35, strokeWidth=1.5).encode(
        x=XR, y=YR("lo"), y2="hi:Q"),
    alt.Chart(pd.DataFrame({"y": [0]})).mark_rule(color="#1c2b6b", strokeDash=[9, 5], strokeWidth=3).encode(y=YR("y")),
    alt.Chart(pd.DataFrame({"y": [-3, 3]})).mark_rule(color="#2c3d85", strokeDash=[2, 4], strokeWidth=3).encode(y=YR("y")),
]
res_layers += ticks_x(E_TICK_MAJOR, E_TICK_MINOR, XR, RH)
res_layers += [
    alt.Chart(pd.DataFrame({"y": R_TICK_MAJOR})).mark_rule(color="black", strokeWidth=2).encode(
        y=YR("y"), x=alt.value(0), x2=alt.value(TMAJ)),
    alt.Chart(pd.DataFrame({"y": R_TICK_MINOR})).mark_rule(color="black", strokeWidth=2).encode(
        y=YR("y"), x=alt.value(0), x2=alt.value(TMIN)),
]
resid = alt.layer(*res_layers).properties(width=SW, height=RH)

right = alt.vconcat(main, resid, spacing=53, bounds="flush")

chart = alt.hconcat(corner_wrapped, right, spacing=152).properties(
    padding={"left": 77, "top": 35, "right": 10, "bottom": 5}
).configure(font=FONT).configure_view(stroke="#1a1a1a", strokeWidth=2.5)

chart.save("out.html", embed_options={"renderer": "svg", "actions": False})
